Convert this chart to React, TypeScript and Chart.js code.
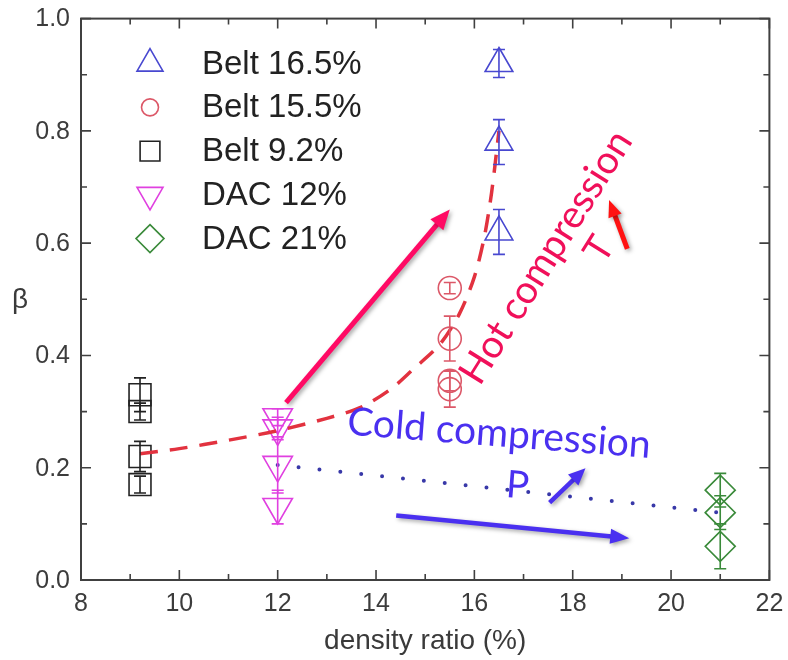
import React, { useEffect, useRef } from "react";
import { Chart, registerables } from "chart.js";

Chart.register(...registerables);

// ---------------- data ----------------
const belt165X = [16.5, 16.5, 16.5];
const belt165Y = [0.92, 0.78, 0.62];
const belt165Err = [0.025, 0.04, 0.04];

const belt155X = [15.5, 15.5, 15.5, 15.5];
const belt155Y = [0.52, 0.43, 0.355, 0.34];
const belt155Err = [0.01, 0.04, 0.018, 0.032];

const belt92X = [9.2, 9.2, 9.2, 9.2];
const belt92Y = [0.33, 0.3, 0.22, 0.17];
const belt92Err = [0.03, 0.015, 0.027, 0.015];

const dac12X = [12, 12, 12, 12];
const dac12Y = [0.29, 0.27, 0.205, 0.13];
const dac12Err = [0.015, 0.02, 0.05, 0.03];

const dac21X = [21, 21, 21];
const dac21Y = [0.16, 0.12, 0.06];
const dac21Err = [0.03, 0.03, 0.04];

const hotFitX = [9.2, 10, 11, 12, 13, 13.7, 14.3, 14.75, 15.3, 15.7, 16.0, 16.2, 16.35, 16.5];
const hotFitY = [0.225, 0.234, 0.249, 0.266, 0.288, 0.308, 0.34, 0.375, 0.42, 0.475, 0.54, 0.61, 0.69, 0.8];

const coldFitX = [12, 21];
const coldFitY = [0.205, 0.12];

const xMajorTicks = [8, 10, 12, 14, 16, 18, 20, 22];
const xMinorTicks = [9, 11, 13, 15, 17, 19, 21];
const yMajorTicks = [0, 0.2, 0.4, 0.6, 0.8, 1.0];
const yMinorTicks = [0.1, 0.3, 0.5, 0.7, 0.9];
const xTickLabels = ["8", "10", "12", "14", "16", "18", "20", "22"];
const yTickLabels = ["0.0", "0.2", "0.4", "0.6", "0.8", "1.0"];

const legendLabels = ["Belt 16.5%", "Belt 15.5%", "Belt 9.2%", "DAC 12%", "DAC 21%"];

const xTitle = "density ratio (%)";
const yTitle = "β";

// annotations (data coordinates)
const arrowFrom = [
  [12.17, 0.316],
  [19.11, 0.59],
  [14.41, 0.115],
  [17.53, 0.138],
];
const arrowTo = [
  [15.5, 0.66],
  [18.74, 0.677],
  [19.15, 0.0745],
  [18.26, 0.199],
];
const arrowColors = ["#ff0a64", "#ff1212", "#4a30f0", "#4a30f0"];

const noteTexts = ["Cold compression", "P", "Hot compression", "T"];
const notePos = [
  [13.4, 0.259],
  [16.88, 0.168],
  [16.11, 0.344],
  [18.54, 0.589],
];
const noteAngles = [4.4, 4.4, -58, -58];
const noteColors = ["#4a30f0", "#4a30f0", "#f0105a", "#f0105a"];

// ---------------- styles ----------------
const C_BLUE = "#4848d0";
const C_RED = "#dc5868";
const C_BLACK = "#222222";
const C_MAG = "#e040e0";
const C_GREEN = "#3a8a3a";

const FONT = "'Liberation Sans', Arial, sans-serif";
const NOTE_FONT = "Lato, 'Open Sans', sans-serif";

function pts(xs: number[], ys: number[]) {
  return xs.map((x, i) => ({ x, y: ys[i] }));
}

function drawMarker(ctx: CanvasRenderingContext2D, style: string, x: number, y: number, r: number, rotDeg: number) {
  ctx.beginPath();
  let rad = (rotDeg * Math.PI) / 180;
  if (style === "triangle") {
    for (let k = 0; k < 3; k++) {
      const px = x + Math.sin(rad) * r;
      const py = y - Math.cos(rad) * r;
      if (k === 0) ctx.moveTo(px, py);
      else ctx.lineTo(px, py);
      rad += (2 * Math.PI) / 3;
    }
    ctx.closePath();
  } else if (style === "circle") {
    ctx.arc(x, y, r, 0, Math.PI * 2);
  } else if (style === "rect") {
    const s = Math.SQRT1_2 * r;
    ctx.rect(x - s, y - s, 2 * s, 2 * s);
  } else if (style === "rectRot") {
    ctx.moveTo(x, y - r);
    ctx.lineTo(x + r, y);
    ctx.lineTo(x, y + r);
    ctx.lineTo(x - r, y);
    ctx.closePath();
  }
  ctx.stroke();
}

function drawArrow(ctx: CanvasRenderingContext2D, x1: number, y1: number, x2: number, y2: number, color: string, w: number, hl: number, hw: number) {
  const a = Math.atan2(y2 - y1, x2 - x1);
  const c = Math.cos(a);
  const s = Math.sin(a);
  ctx.save();
  ctx.shadowColor = "rgba(0,0,0,0.35)";
  ctx.shadowBlur = 4;
  ctx.shadowOffsetX = 2;
  ctx.shadowOffsetY = 2;
  ctx.strokeStyle = color;
  ctx.fillStyle = color;
  ctx.lineWidth = w;
  ctx.lineCap = "butt";
  ctx.beginPath();
  ctx.moveTo(x1, y1);
  ctx.lineTo(x2 - c * hl * 0.8, y2 - s * hl * 0.8);
  ctx.stroke();
  ctx.beginPath();
  ctx.moveTo(x2, y2);
  ctx.lineTo(x2 - c * hl - s * hw / 2, y2 - s * hl + c * hw / 2);
  ctx.lineTo(x2 - c * hl + s * hw / 2, y2 - s * hl - c * hw / 2);
  ctx.closePath();
  ctx.fill();
  ctx.restore();
}

const overlayPlugin = {
  id: "overlay",
  afterDatasetsDraw(chart: any) {
    const ctx: CanvasRenderingContext2D = chart.ctx;
    const xs = chart.scales.x;
    const ys = chart.scales.y;
    chart.data.datasets.forEach((ds: any) => {
      if (!ds.errs) return;
      ctx.save();
      ctx.strokeStyle = ds.borderColor;
      ctx.lineWidth = 1.6;
      ds.data.forEach((p: any, i: number) => {
        const e = ds.errs[i];
        const px = xs.getPixelForValue(p.x);
        const t = ys.getPixelForValue(p.y + e);
        const b = ys.getPixelForValue(p.y - e);
        ctx.beginPath();
        ctx.moveTo(px, t);
        ctx.lineTo(px, b);
        ctx.moveTo(px - 6, t);
        ctx.lineTo(px + 6, t);
        ctx.moveTo(px - 6, b);
        ctx.lineTo(px + 6, b);
        ctx.stroke();
      });
      ctx.restore();
    });
  },
  afterDraw(chart: any) {
    const ctx: CanvasRenderingContext2D = chart.ctx;
    const a = chart.chartArea;
    const xs = chart.scales.x;
    const ys = chart.scales.y;
    ctx.save();
    // frame
    ctx.strokeStyle = "#404040";
    ctx.lineWidth = 2;
    ctx.strokeRect(a.left, a.top, a.right - a.left, a.bottom - a.top);
    // ticks (inward, all four sides)
    ctx.lineWidth = 1.6;
    ctx.beginPath();
    const xt = (v: number, len: number) => {
      const px = xs.getPixelForValue(v);
      ctx.moveTo(px, a.bottom);
      ctx.lineTo(px, a.bottom - len);
      ctx.moveTo(px, a.top);
      ctx.lineTo(px, a.top + len);
    };
    const yt = (v: number, len: number) => {
      const py = ys.getPixelForValue(v);
      ctx.moveTo(a.left, py);
      ctx.lineTo(a.left + len, py);
      ctx.moveTo(a.right, py);
      ctx.lineTo(a.right - len, py);
    };
    xMajorTicks.forEach((v) => xt(v, 10));
    xMinorTicks.forEach((v) => xt(v, 6));
    yMajorTicks.forEach((v) => yt(v, 10));
    yMinorTicks.forEach((v) => yt(v, 6));
    ctx.stroke();

    // tick labels
    ctx.fillStyle = "#3c3c3c";
    ctx.font = `25px ${FONT}`;
    ctx.textAlign = "center";
    ctx.textBaseline = "middle";
    xMajorTicks.forEach((v, i) => {
      ctx.fillText(xTickLabels[i], xs.getPixelForValue(v), a.bottom + 24);
    });
    ctx.textAlign = "right";
    yMajorTicks.forEach((v, i) => {
      ctx.fillText(yTickLabels[i], a.left - 11, ys.getPixelForValue(v) + 1);
    });

    // axis titles
    ctx.fillStyle = "#3a3a3a";
    ctx.font = `28px ${FONT}`;
    ctx.textAlign = "center";
    ctx.textBaseline = "middle";
    ctx.fillText(xTitle, (a.left + a.right) / 2, 641);
    ctx.fillText(yTitle, 20, 300);

    // legend
    const styles = ["triangle", "circle", "rect", "triangle", "rectRot"];
    const rots = [0, 0, 0, 180, 0];
    const radii = [15, 8.5, 14, 15, 14];
    const cols = [C_BLUE, C_RED, C_BLACK, C_MAG, C_GREEN];
    legendLabels.forEach((lab, i) => {
      const ry = a.top + 45 + i * 43.75;
      ctx.strokeStyle = cols[i];
      ctx.lineWidth = 1.6;
      drawMarker(ctx, styles[i], a.left + 69, ry, radii[i], rots[i]);
      ctx.fillStyle = "#222";
      ctx.font = `33px ${FONT}`;
      ctx.textAlign = "left";
      ctx.textBaseline = "middle";
      ctx.fillText(lab, a.left + 121, ry + 1);
    });

    // arrows
    const arrowSpec = [
      [5, 20, 17],
      [5, 17, 14],
      [4.5, 19, 15],
      [4.5, 17, 15],
    ];
    arrowFrom.forEach((f, i) => {
      const t = arrowTo[i];
      drawArrow(
        ctx,
        xs.getPixelForValue(f[0]),
        ys.getPixelForValue(f[1]),
        xs.getPixelForValue(t[0]),
        ys.getPixelForValue(t[1]),
        arrowColors[i],
        arrowSpec[i][0],
        arrowSpec[i][1],
        arrowSpec[i][2]
      );
    });

    // notes
    const noteSizes = [39, 38, 39, 38];
    const noteAlign: CanvasTextAlign[] = ["left", "center", "left", "center"];
    const noteBase: CanvasTextBaseline[] = ["alphabetic", "middle", "alphabetic", "middle"];
    noteTexts.forEach((txt, i) => {
      ctx.save();
      ctx.translate(xs.getPixelForValue(notePos[i][0]), ys.getPixelForValue(notePos[i][1]));
      ctx.rotate((noteAngles[i] * Math.PI) / 180);
      ctx.font = `${noteSizes[i]}px ${NOTE_FONT}`;
      ctx.fillStyle = noteColors[i];
      ctx.textAlign = noteAlign[i];
      ctx.textBaseline = noteBase[i];
      ctx.fillText(txt, 0, 0);
      ctx.restore();
    });
    ctx.restore();
  },
};

export default function App() {
  const ref = useRef<HTMLCanvasElement | null>(null);
  useEffect(() => {
    if (!ref.current) return;
    const chart = new Chart(ref.current, {
      type: "scatter",
      data: {
        datasets: [
          {
            label: "hot fit",
            data: pts(hotFitX, hotFitY),
            showLine: true,
            borderColor: "#e2323f",
            borderWidth: 3.5,
            borderDash: [18, 12],
            pointRadius: 0,
            tension: 0.3,
            fill: false,
          } as any,
          {
            label: "cold fit",
            data: pts(coldFitX, coldFitY),
            showLine: true,
            borderColor: "#3838a8",
            borderWidth: 4,
            borderDash: [0, 21],
            borderCapStyle: "round",
            pointRadius: 0,
            fill: false,
          } as any,
          {
            label: legendLabels[0],
            data: pts(belt165X, belt165Y),
            errs: belt165Err,
            pointStyle: "triangle",
            pointRadius: 16,
            borderColor: C_BLUE,
            backgroundColor: "rgba(0,0,0,0)",
            borderWidth: 1.6,
          } as any,
          {
            label: legendLabels[1],
            data: pts(belt155X, belt155Y),
            errs: belt155Err,
            pointStyle: "circle",
            pointRadius: 11.5,
            borderColor: C_RED,
            backgroundColor: "rgba(0,0,0,0)",
            borderWidth: 1.6,
          } as any,
          {
            label: legendLabels[2],
            data: pts(belt92X, belt92Y),
            errs: belt92Err,
            pointStyle: "rect",
            pointRadius: 15.5,
            borderColor: C_BLACK,
            backgroundColor: "rgba(0,0,0,0)",
            borderWidth: 1.6,
          } as any,
          {
            label: legendLabels[3],
            data: pts(dac12X, dac12Y),
            errs: dac12Err,
            pointStyle: "triangle",
            rotation: 180,
            pointRadius: 17,
            borderColor: C_MAG,
            backgroundColor: "rgba(0,0,0,0)",
            borderWidth: 1.6,
          } as any,
          {
            label: legendLabels[4],
            data: pts(dac21X, dac21Y),
            errs: dac21Err,
            pointStyle: "rectRot",
            pointRadius: 15,
            borderColor: C_GREEN,
            backgroundColor: "rgba(0,0,0,0)",
            borderWidth: 1.6,
          } as any,
        ],
      },
      options: {
        animation: false,
        responsive: true,
        maintainAspectRatio: false,
        layout: { padding: { left: 0, right: 15, top: 16, bottom: 0 } },
        plugins: { legend: { display: false }, tooltip: { enabled: false } },
        scales: {
          x: {
            type: "linear",
            min: 8,
            max: 22,
            grid: { display: false, drawTicks: false },
            border: { display: false },
            afterBuildTicks: (s: any) => {
              s.ticks = xMajorTicks.map((v) => ({ value: v }));
            },
            afterFit: (s: any) => {
              s.height = 80;
            },
            ticks: { display: false },
          },
          y: {
            type: "linear",
            min: 0,
            max: 1,
            grid: { display: false, drawTicks: false },
            border: { display: false },
            afterBuildTicks: (s: any) => {
              s.ticks = yMajorTicks.map((v) => ({ value: v }));
            },
            afterFit: (s: any) => {
              s.width = 81;
            },
            ticks: { display: false },
          },
        },
      } as any,
      plugins: [overlayPlugin],
    });
    return () => chart.destroy();
  }, []);

  return (
    <div style={{ position: "fixed", left: 0, top: 0, width: 788, height: 660, background: "#fff" }}>
      <canvas ref={ref} />
    </div>
  );
}
